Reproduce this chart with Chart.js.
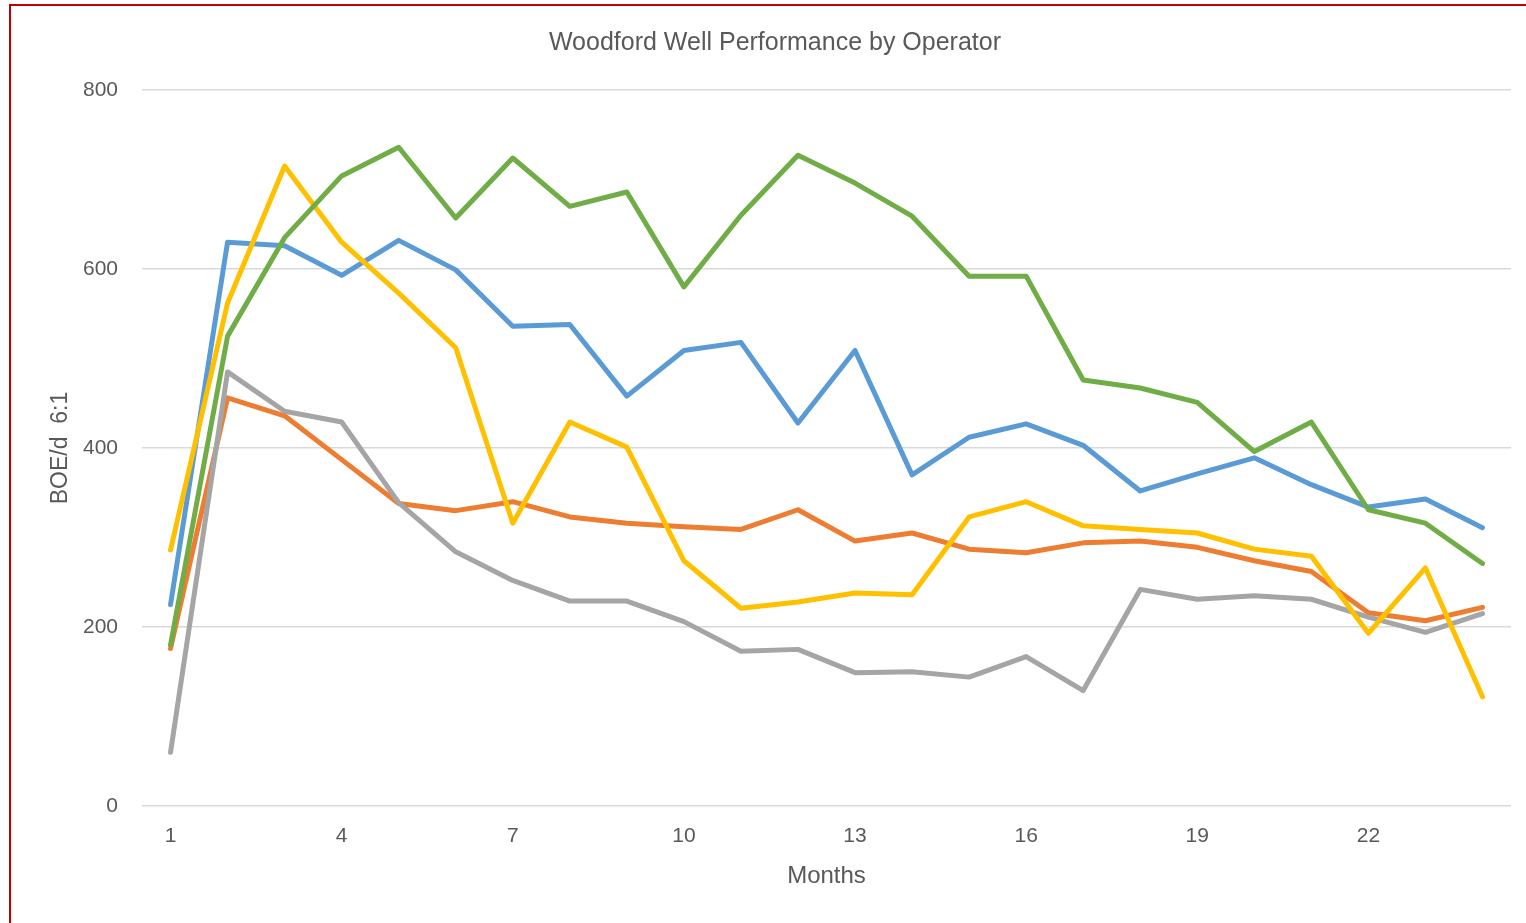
<!DOCTYPE html>
<html>
<head>
<meta charset="utf-8">
<script src="https://cdn.jsdelivr.net/npm/chart.js@4/dist/chart.umd.min.js"></script>
<style>
  html, body { margin: 0; padding: 0; background: #ffffff; overflow: hidden; }
  #wrap { position: relative; width: 1526px; height: 923px; }
  #frame { position: absolute; left: 9px; top: 4px; width: 1600px; height: 1000px;
           border-left: 2px solid #c00000; border-top: 2px solid #c00000; box-sizing: border-box; }
  canvas { position: absolute; left: 0; top: 0; }
</style>
</head>
<body>
<div id="wrap">
  <div id="frame"></div>
  <canvas id="c" width="1526" height="923"></canvas>
</div>
<script>
const chartTitle = "Woodford Well Performance by Operator";
const xAxisTitle = "Months";
const yAxisTitle = "BOE/d  6:1";

const months = [1,2,3,4,5,6,7,8,9,10,11,12,13,14,15,16,17,18,19,20,21,22,23,24];

const seriesBlue   = [225,630,626,593,632,599,536,538,458,509,518,428,509,370,412,427,403,352,371,389,359,334,343,311];
const seriesOrange = [176,456,436,387,338,330,340,323,316,312,309,331,296,305,287,283,294,296,289,274,262,216,207,222];
const seriesGray   = [60,485,441,429,339,284,252,229,229,206,173,175,149,150,144,167,129,242,231,235,231,211,194,215];
const seriesYellow = [286,562,715,630,573,512,316,429,401,274,221,228,238,236,323,340,313,309,305,287,279,193,266,122];
const seriesGreen  = [180,525,635,704,736,657,724,670,686,580,660,727,696,659,592,592,476,467,451,396,429,331,316,271];

const yTicks = [0,200,400,600,800];

const FONT = "'Liberation Sans', Arial, sans-serif";
const TEXT = "#595959";

const titlePlugin = {
  id: 'centerTitle',
  afterDraw(chart) {
    const ctx = chart.ctx;
    ctx.save();
    ctx.font = "25px " + FONT;
    ctx.fillStyle = TEXT;
    ctx.textAlign = "center";
    ctx.textBaseline = "middle";
    ctx.fillText(chartTitle, 775, 43);
    ctx.restore();
  }
};

function ds(label, data, color, order) {
  return {
    label, data,
    borderColor: color, backgroundColor: color,
    borderWidth: 5, pointRadius: 0, pointHoverRadius: 0,
    tension: 0, fill: false,
    borderCapStyle: 'round', borderJoinStyle: 'round',
    order
  };
}

new Chart(document.getElementById('c'), {
  type: 'line',
  data: {
    labels: months,
    datasets: [
      ds('Operator 1', seriesBlue,   '#5B9BD5', 5),
      ds('Operator 2', seriesOrange, '#ED7D31', 4),
      ds('Operator 3', seriesGray,   '#A5A5A5', 3),
      ds('Operator 4', seriesYellow, '#FFC000', 2),
      ds('Operator 5', seriesGreen,  '#70AD47', 1)
    ]
  },
  options: {
    responsive: false,
    animation: false,
    layout: { padding: { left: 0, right: 15, top: 90, bottom: 0 } },
    plugins: {
      legend: { display: false },
      title: { display: false },
      tooltip: { enabled: false }
    },
    scales: {
      x: {
        type: 'category',
        offset: true,
        grid: { display: false, drawTicks: false },
        border: { display: false },
        ticks: {
          autoSkip: false, maxRotation: 0, minRotation: 0,
          color: TEXT, font: { family: FONT, size: 21 }, padding: 18,
          callback: function(value, index) { return index % 3 === 0 ? this.getLabelForValue(value) : ''; }
        },
        title: { display: true, text: xAxisTitle, color: TEXT,
                 font: { family: FONT, size: 24 }, padding: { top: 0, bottom: 32 } },
        afterFit(scale) { scale.height = 117; }
      },
      y: {
        min: 0, max: 800,
        afterBuildTicks(scale) { scale.ticks = yTicks.map(v => ({ value: v })); },
        grid: { color: '#d9d9d9', lineWidth: 1.5, drawTicks: false },
        border: { display: false },
        ticks: { color: TEXT, font: { family: FONT, size: 21 }, padding: 24 },
        title: { display: true, text: yAxisTitle, color: TEXT,
                 font: { family: FONT, size: 23 }, padding: { top: 47, bottom: 0 } },
        afterFit(scale) { scale.width = 142; }
      }
    }
  },
  plugins: [titlePlugin]
});
</script>
</body>
</html>
